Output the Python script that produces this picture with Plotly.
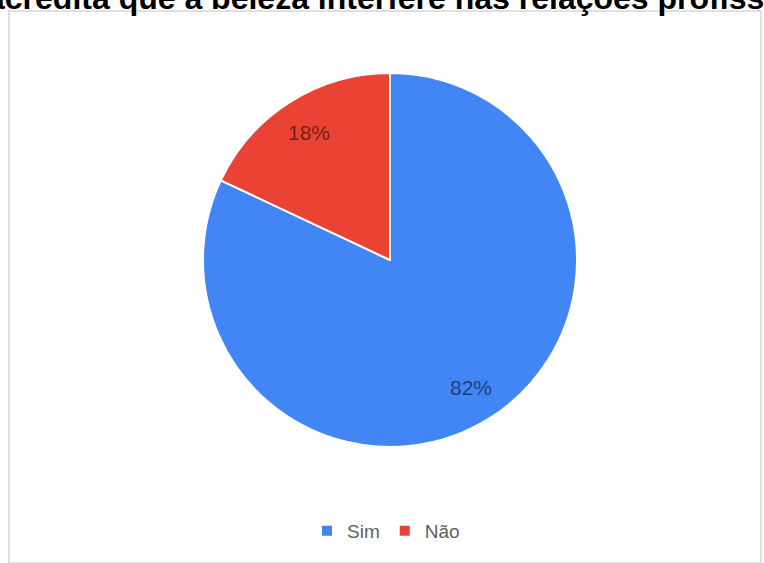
import math
import plotly.graph_objects as go

# Survey answers and their shares (%)
categories = ["Sim", "Não"]
shares = [82, 18]
slice_colors = ["#4285F4", "#EA4335"]
title_text = "Você acredita que a beleza interfere nas relações profissionais?"

W, H = 764, 563
ml, mr, mt, mb = 9, 3, 11, 0
pw, ph = W - ml - mr, H - mt - mb

# pie placement in pixels (centre and radius)
cx, cy, r = 390, 260, 187
label_radius = 0.81 * r
FONT = "Liberation Sans, Arial, sans-serif"

def px_to_x(x):
    return (x - ml) / pw

def px_to_y(y):
    return (H - mb - y) / ph

fig = go.Figure()
fig.add_trace(go.Pie(
    labels=categories,
    values=shares,
    sort=False,
    direction="clockwise",
    rotation=0,
    marker=dict(colors=slice_colors, line=dict(color="white", width=2)),
    textinfo="none",
    domain=dict(x=[px_to_x(cx - r), px_to_x(cx + r)], y=[px_to_y(cy + r), px_to_y(cy - r)]),
    hoverinfo="label+percent",
))

# percentage labels placed along each slice's bisector (clockwise from 12 o'clock)
total = sum(shares)
annotations = []
start = 0.0
for name, v in zip(categories, shares):
    mid = (start + v / 2) / total * 2 * math.pi
    start += v
    lx = cx + label_radius * math.sin(mid)
    ly = cy - label_radius * math.cos(mid)
    annotations.append(dict(
        text=f"{round(100 * v / total)}%",
        xref="paper", yref="paper",
        x=px_to_x(lx), y=px_to_y(ly),
        xanchor="center", yanchor="middle",
        showarrow=False,
        font=dict(family=FONT, size=21, color="rgba(0,0,0,0.55)"),
    ))

# chart title across the top
annotations.append(dict(
    text="<b>" + title_text + "</b>",
    xref="paper", yref="paper",
    x=px_to_x(cx), xanchor="center",
    y=1, yanchor="bottom", yshift=-7,
    showarrow=False,
    font=dict(family=FONT, size=32, color="black"),
))

fig.update_layout(
    width=W, height=H,
    margin=dict(l=ml, r=mr, t=mt, b=mb),
    paper_bgcolor="white",
    plot_bgcolor="white",
    legend=dict(
        orientation="h",
        x=px_to_x(cx - 4), xanchor="center",
        y=px_to_y(531), yanchor="middle",
        font=dict(family=FONT, size=19, color="#5f5f5f"),
        itemwidth=30,
    ),
    shapes=[dict(
        type="rect", xref="paper", yref="paper",
        x0=0, x1=1, y0=0, y1=1,
        line=dict(color="#d6d6d6", width=1.5),
        layer="below",
    )],
    annotations=annotations,
)

fig.write_html("out.html")
